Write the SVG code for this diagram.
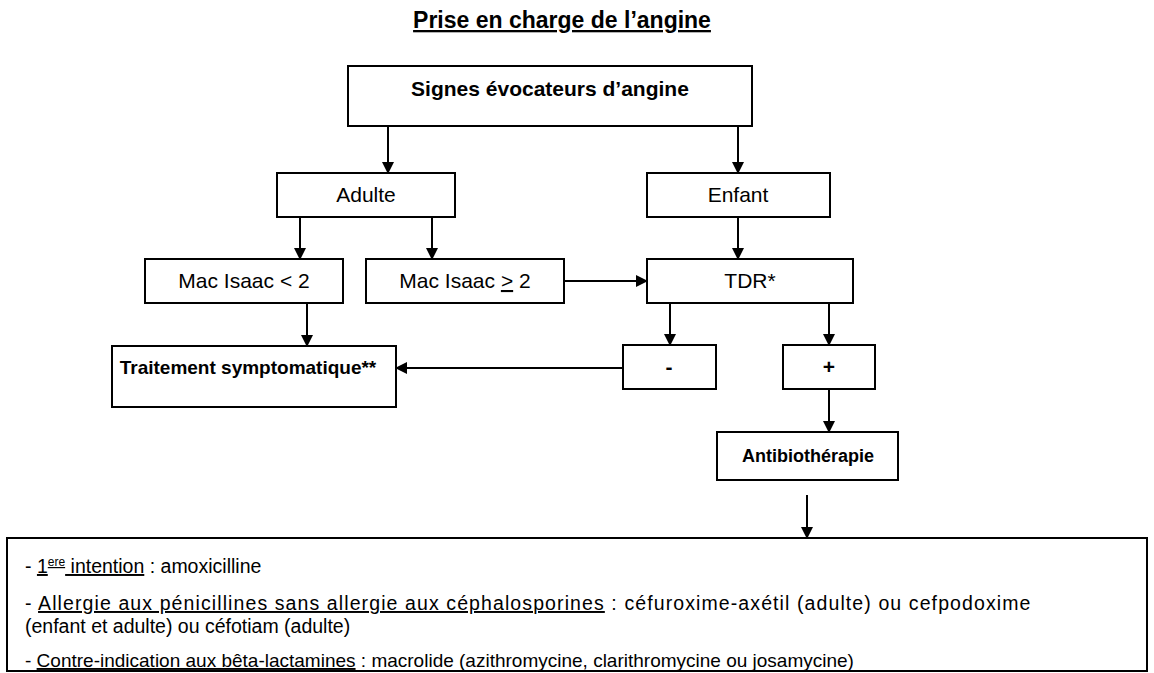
<svg xmlns="http://www.w3.org/2000/svg" width="1154" height="673" viewBox="0 0 1154 673">
<defs>
<marker id="ah" markerWidth="12" markerHeight="12" refX="11" refY="6" orient="auto" markerUnits="userSpaceOnUse">
<path d="M0,0 L12,6 L0,12 Z" fill="#000"/>
</marker>
<style>
.box{fill:#fff;stroke:#000;stroke-width:2}
.t{font-family:"Liberation Sans",Arial,sans-serif;font-size:21px;fill:#000;text-anchor:middle}
.b{font-weight:bold}
.l{font-family:"Liberation Sans",Arial,sans-serif;font-size:19.5px;fill:#000}
.u{text-decoration:underline}
.c{stroke:#000;stroke-width:2;fill:none;marker-end:url(#ah)}
</style>
</defs>
<rect width="1154" height="673" fill="#fff"/>
<text class="t b u" x="562" y="28" style="font-size:23px">Prise en charge de l’angine</text>
<g id="connectors">
<line class="c" x1="388" y1="126" x2="388" y2="173"/>
<line class="c" x1="738" y1="126" x2="738" y2="173"/>
<line class="c" x1="300" y1="217" x2="300" y2="259"/>
<line class="c" x1="432" y1="217" x2="432" y2="259"/>
<line class="c" x1="738" y1="217" x2="738" y2="259"/>
<line class="c" x1="564" y1="281" x2="647" y2="281"/>
<line class="c" x1="307" y1="303" x2="307" y2="346"/>
<line class="c" x1="670" y1="303" x2="670" y2="345"/>
<line class="c" x1="829" y1="303" x2="829" y2="345"/>
<line class="c" x1="623" y1="368" x2="396" y2="368"/>
<line class="c" x1="829" y1="389" x2="829" y2="432"/>
<line class="c" x1="807" y1="495" x2="807" y2="538"/>
</g>
<g id="signes"><rect class="box" x="348" y="66" width="404" height="60"/><text class="t b" x="550" y="96">Signes évocateurs d’angine</text></g>
<g id="adulte"><rect class="box" x="277" y="173" width="178" height="44"/><text class="t" x="366" y="202">Adulte</text></g>
<g id="enfant"><rect class="box" x="647" y="173" width="183" height="44"/><text class="t" x="738" y="202">Enfant</text></g>
<g id="mac1"><rect class="box" x="145" y="259" width="198" height="44"/><text class="t" x="244" y="288">Mac Isaac &lt; 2</text></g>
<g id="mac2"><rect class="box" x="366" y="259" width="198" height="44"/><text class="t" x="465" y="288">Mac Isaac <tspan class="u">&gt;</tspan> 2</text></g>
<g id="tdr"><rect class="box" x="647" y="259" width="206" height="44"/><text class="t" x="750" y="288">TDR*</text></g>
<g id="moins"><rect class="box" x="623" y="345" width="93" height="44"/><text class="t b" x="669" y="374">-</text></g>
<g id="plus"><rect class="box" x="783" y="345" width="92" height="44"/><text class="t b" x="829" y="374">+</text></g>
<g id="traitement"><rect class="box" x="112" y="346" width="284" height="61"/><text class="t b" x="248" y="374" style="font-size:19px">Traitement symptomatique**</text></g>
<g id="antibio"><rect class="box" x="717" y="432" width="181" height="48"/><text class="t b" x="808" y="462" style="font-size:18px">Antibiothérapie</text></g>
<g id="traitements">
<rect class="box" x="7" y="538" width="1140" height="133"/>
<text class="l" x="25" y="573">- <tspan class="u">1<tspan dy="-7" style="font-size:12px">ere</tspan><tspan dy="7"> intention</tspan></tspan> : amoxicilline</text>
<text class="l" x="25" y="610" style="letter-spacing:1.1px">- <tspan class="u">Allergie aux pénicillines sans allergie aux céphalosporines</tspan> : céfuroxime-axétil (adulte) ou cefpodoxime</text>
<text class="l" x="25" y="633">(enfant et adulte) ou céfotiam (adulte)</text>
<text class="l" x="25" y="667" style="font-size:19px">- <tspan class="u">Contre-indication aux bêta-lactamines</tspan> : macrolide (azithromycine, clarithromycine ou josamycine)</text>
</g>
</svg>
